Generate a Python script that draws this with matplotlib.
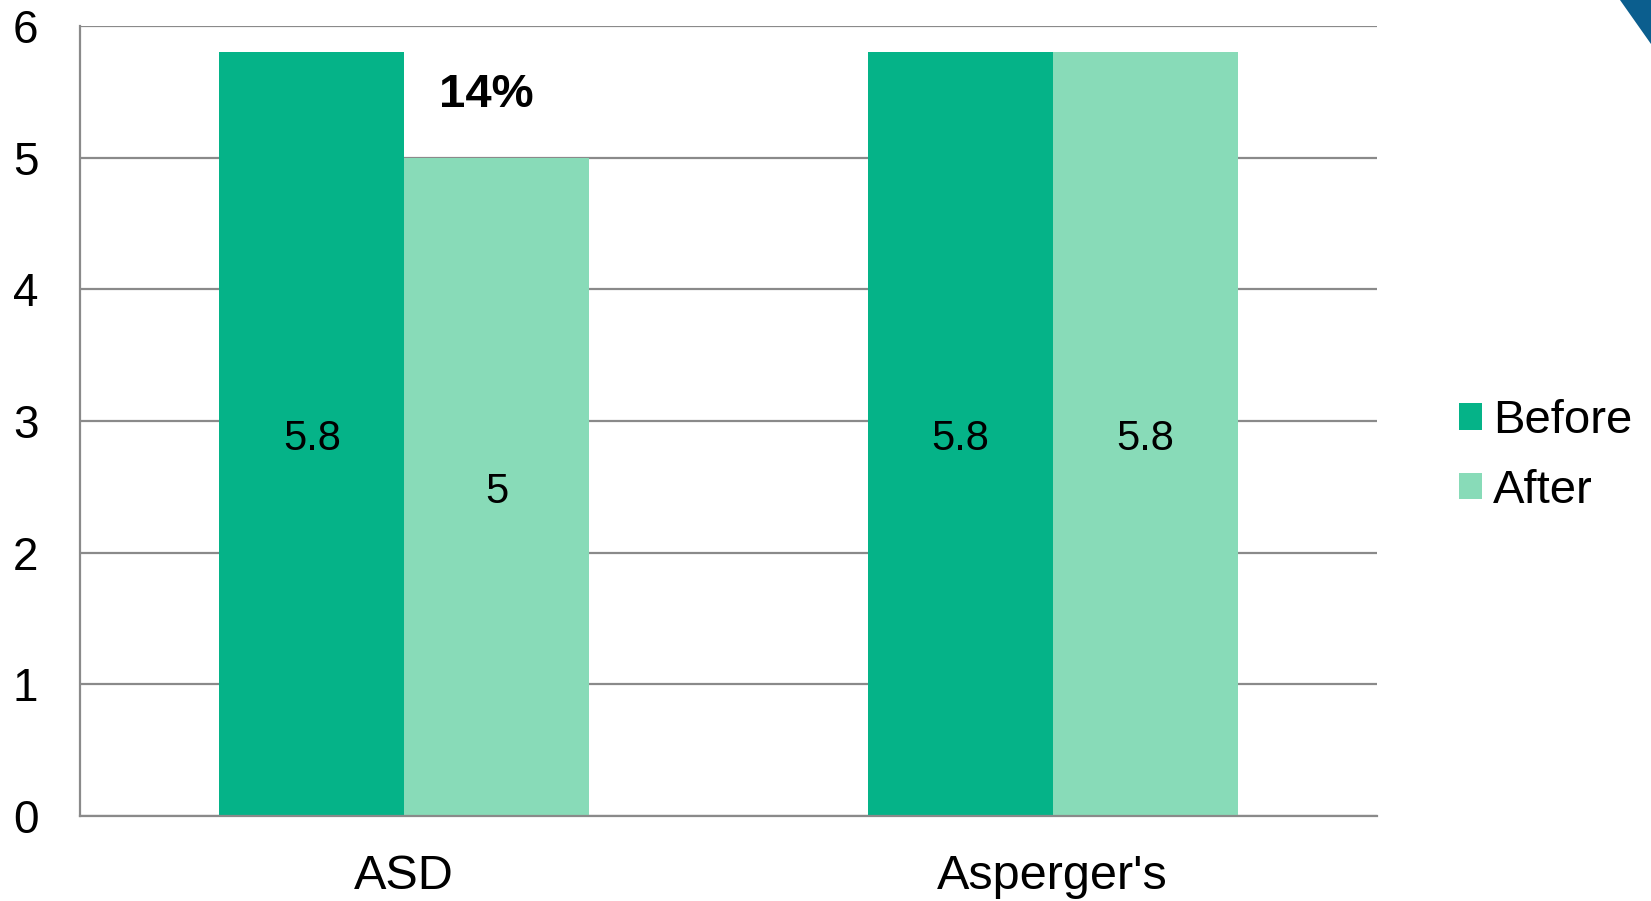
import matplotlib.pyplot as plt
import numpy as np
from matplotlib.patches import Polygon

plt.rcParams['font.family'] = ['Liberation Sans', 'DejaVu Sans']

groups = ['ASD', "Asperger's"]
before = [5.8, 5.8]
after = [5.0, 5.8]
series_names = ['Before', 'After']
colors = ['#05b388', '#88dbb8']

fig = plt.figure(figsize=(16.51, 9.01), dpi=100)
ax = fig.add_axes([0.0485, 0.0943, 0.7855, 0.8768])

x = np.arange(len(groups))
w = 0.285
b1 = ax.bar(x - w / 2, before, w, color=colors[0], label=series_names[0], zorder=2)
b2 = ax.bar(x + w / 2, after, w, color=colors[1], label=series_names[1], zorder=2)

# value labels in the middle of each bar
for bars in (b1, b2):
    for rect, v in zip(bars, bars.datavalues):
        ax.text(rect.get_x() + rect.get_width() / 2, v / 2 - 0.04, f'{v:g}',
                ha='center', va='center', fontsize=30, color='black')

# drop from before to after on the ASD group
drop = round((before[0] - after[0]) / before[0] * 100)
ax.text(x[0] + 0.127, 5.48, f'{drop}%', ha='center', va='center',
        fontsize=34, fontweight='bold')

ax.set_xlim(-0.5, 1.5)
ax.set_ylim(0, 6)
ax.set_yticks(range(0, 7))
ax.set_xticks(x)
ax.set_xticklabels(groups)
ax.tick_params(axis='y', length=0, labelsize=33, pad=30)
ax.tick_params(axis='x', length=0, labelsize=35, pad=27)
ax.yaxis.grid(True, color='#8a8a8a', linewidth=1.6, zorder=0)
ax.set_axisbelow(True)
for side in ['top', 'right']:
    ax.spines[side].set_visible(False)
for side in ['left', 'bottom']:
    ax.spines[side].set_color('#8a8a8a')
    ax.spines[side].set_linewidth(1.6)

ax.legend(loc='center left', bbox_to_anchor=(1.063, 0.456), frameon=False,
          fontsize=34, handlelength=0.5, handleheight=0.5, handletextpad=0.22,
          labelspacing=0.55, borderpad=0, borderaxespad=0)

# corner of the blue slide banner
fig.patches.append(Polygon([(1620 / 1651, 1.0), (1.0, 1.0), (1.0, 1 - 44 / 901)],
                           closed=True, transform=fig.transFigure,
                           facecolor='#0b5e8e', edgecolor='none'))

fig.savefig('out.png', dpi=100)
